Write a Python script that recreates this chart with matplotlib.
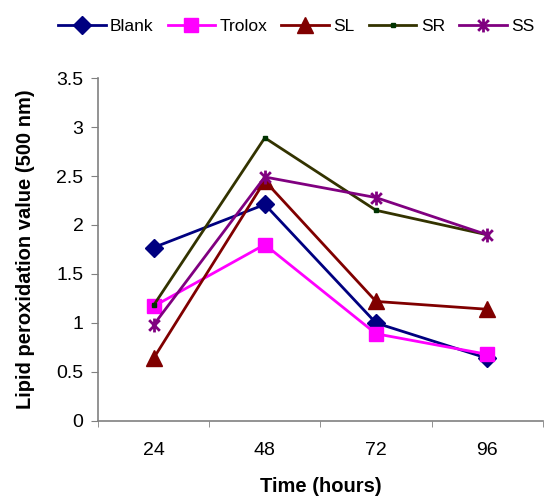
import matplotlib
matplotlib.use('Agg')
import matplotlib.pyplot as plt
import numpy as np
from matplotlib.path import Path

plt.rcParams['font.family'] = ['Liberation Sans', 'DejaVu Sans']

# data
hours = ['24', '48', '72', '96']
blank = [1.77, 2.21, 1.00, 0.64]
trolox = [1.17, 1.80, 0.89, 0.68]
sl = [0.64, 2.45, 1.22, 1.14]
sr = [1.18, 2.89, 2.15, 1.90]
ss = [0.98, 2.49, 2.28, 1.90]

# excel style star: an x with a vertical bar through it
star = Path([(-1, -1), (1, 1), (-1, 1), (1, -1), (0, -1.3), (0, 1.3)],
            [Path.MOVETO, Path.LINETO, Path.MOVETO, Path.LINETO, Path.MOVETO, Path.LINETO])

fig = plt.figure(figsize=(5.55, 4.97), dpi=100)
ax = fig.add_axes([0.1766, 0.153, 0.8014, 0.69])

x = np.arange(len(hours))
ax.plot(x, blank, color='#000080', marker='D', markersize=9, lw=2, label='Blank')
ax.plot(x, trolox, color='#FF00FF', marker='s', markersize=9.5, lw=2, label='Trolox')
ax.plot(x, sl, color='#800000', marker='^', markersize=11, lw=2, label='SL')
ax.plot(x, sr, color='#333300', marker='s', markersize=3.5, mfc='#003300', mec='#003300', lw=2, label='SR')
ax.plot(x, ss, color='#800080', marker=star, markersize=10, mew=2, lw=2, label='SS')

ax.set_xlim(-0.5, 3.5)
ax.set_ylim(0, 3.5)
ax.set_yticks(np.arange(0, 3.51, 0.5))
ax.set_yticklabels(['0', '0.5', '1', '1.5', '2', '2.5', '3', '3.5'])
ax.set_xticks(x)
ax.set_xticklabels(hours)
ax.set_xticks(np.arange(-0.5, 3.6, 1), minor=True)
ax.tick_params(axis='x', which='major', length=0, pad=15, labelsize=14)
ax.tick_params(axis='x', which='minor', length=4.5, color='#808080', direction='out')
ax.tick_params(axis='y', length=5, color='#808080', direction='out', labelsize=14, pad=5.5)

for side in ['top', 'right']:
    ax.spines[side].set_visible(False)
for side in ['left', 'bottom']:
    ax.spines[side].set_color('#808080')
    ax.spines[side].set_linewidth(1.2)

ax.set_xlabel('Time (hours)', fontsize=14.5, fontweight='bold', labelpad=13)
ax.set_ylabel('Lipid peroxidation value (500 nm)', fontsize=14.5, fontweight='bold', labelpad=15)

fig.legend(loc='center left', bbox_to_anchor=(58 / 555, 1 - 26 / 497), ncol=5, frameon=False,
           borderpad=0, borderaxespad=0, fontsize=12.5, handlelength=2.75,
           handletextpad=0.25, columnspacing=0.8)

fig.savefig('out.png', dpi=100)
